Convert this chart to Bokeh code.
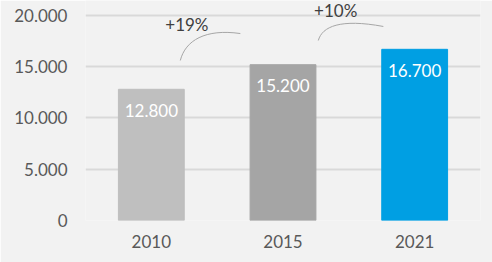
from bokeh.plotting import figure
from bokeh.models import Range1d, FixedTicker, ColumnDataSource
from bokeh.core.properties import value
from bokeh.embed import file_html
from bokeh.resources import INLINE

years = ["2010", "2015", "2021"]
values = [12800, 15200, 16700]
colors = ["#bfbfbf", "#a5a5a5", "#009fe3"]
y_ticks = [0, 5000, 10000, 15000, 20000]

def fmt(v):
    return f"{v:,}".replace(",", ".")

x = list(range(len(years)))
p = figure(width=492, height=262, output_backend="svg", toolbar_location=None,
           x_range=Range1d(-0.5, len(years) - 0.5), y_range=Range1d(0, 21463),
           min_border_left=85, min_border_right=12, min_border_top=0, min_border_bottom=42,
           background_fill_color="#f2f2f2", border_fill_color="#f2f2f2")
p.outline_line_color = None

src = ColumnDataSource(dict(x=x, top=values, color=colors,
                            label=[fmt(v) for v in values]))
p.vbar(x="x", top="top", width=0.5, color="color", source=src)

# value labels inside the bars
p.text(x="x", y="top", text="label", source=src, text_color="white",
       text_font=value("Lato"), text_font_size="17px", text_align="center",
       text_baseline="middle", y_offset=21)

# growth annotations (arc + percentage between consecutive bars)
arcs = [
    (0.22, 15610, 0.258, 17560, 0.41, 18730, 0.676, 18240, 0.27, 19150),
    (1.268, 17560, 1.298, 18930, 1.435, 19710, 1.762, 18930, 1.40, 20500),
]
for i in range(len(values) - 1):
    pct = round((values[i + 1] / values[i] - 1) * 100)
    x0, y0, c0x, c0y, c1x, c1y, x1, y1, tx, ty = arcs[i]
    p.bezier(x0=[x0], y0=[y0], x1=[x1], y1=[y1], cx0=[c0x], cy0=[c0y],
             cx1=[c1x], cy1=[c1y], line_color="#a6a6a6", line_width=1)
    p.text(x=[tx], y=[ty], text=[f"+{pct}%"], text_color="#404040",
           text_font=value("Lato"), text_font_size="17px", text_align="center",
           text_baseline="middle")

p.xaxis.ticker = FixedTicker(ticks=x)
p.xaxis.major_label_overrides = {i: y for i, y in enumerate(years)}
p.yaxis.ticker = FixedTicker(ticks=y_ticks)
p.yaxis.major_label_overrides = {t: fmt(t) for t in y_ticks}
for ax in (p.xaxis[0], p.yaxis[0]):
    ax.axis_line_color = None
    ax.major_tick_line_color = None
    ax.minor_tick_line_color = None
    ax.major_tick_out = 0
    ax.major_tick_in = 0
    ax.minor_tick_out = 0
    ax.major_label_text_font = "Lato"
    ax.major_label_text_font_size = "17px"
    ax.major_label_text_color = "#595959"
p.yaxis.major_label_standoff = 18
p.xaxis.major_label_standoff = 14
p.xgrid.grid_line_color = None
p.ygrid.grid_line_color = "#d9d9d9"
p.ygrid.grid_line_width = 2

open("out.html", "w").write(file_html(p, INLINE))
